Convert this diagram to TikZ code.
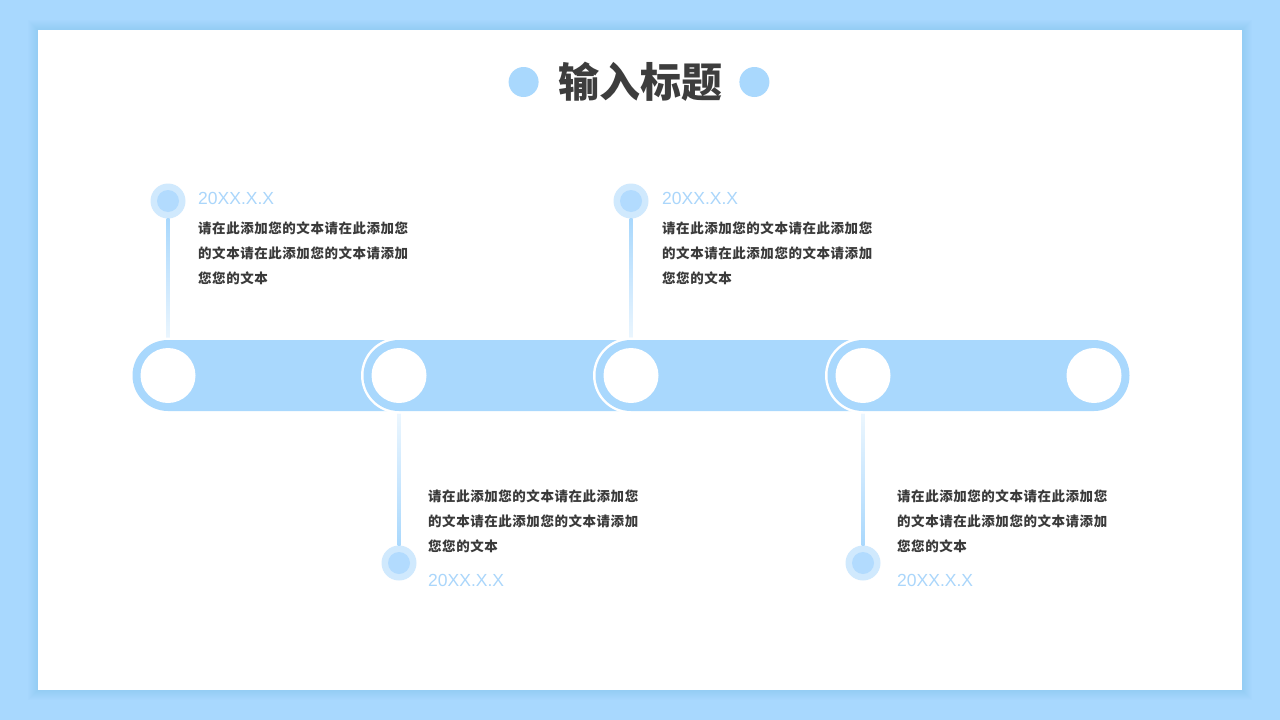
\documentclass[tikz,border=0pt]{standalone}
\usepackage{fontspec}
\newfontfamily\cjk{Noto Sans CJK SC}
\newfontfamily\cjkbody[LetterSpace=4]{Noto Sans CJK SC}
\newfontfamily\datefont{Liberation Sans}
\usetikzlibrary{positioning}

\definecolor{bgblue}{HTML}{A8D8FE}
\definecolor{shadowblue}{HTML}{7FBFF2}
\definecolor{barblue}{HTML}{A9D8FD}
\definecolor{markerlight}{HTML}{D0E9FD}
\definecolor{markerblue}{HTML}{B2DBFE}
\definecolor{datecolor}{HTML}{AAD6FB}
\definecolor{titlegray}{HTML}{3D3D3D}
\definecolor{bodygray}{HTML}{3A3A3A}

\begin{document}
\begin{tikzpicture}[x=1pt, y=-1pt]
	\tikzstyle{hole} = [
		circle, fill=white, minimum size=55pt, inner sep=0pt
	]
	\tikzstyle{marker} = [
		circle, fill=markerlight, minimum size=35pt, inner sep=0pt
	]
	\tikzstyle{marker_in} = [
		circle, fill=markerblue, minimum size=22pt, inner sep=0pt
	]
	\tikzstyle{dot} = [
		circle, fill=barblue, minimum size=30pt, inner sep=0pt
	]
	\tikzstyle{date} = [
		text=datecolor, font={\datefont\fontsize{17.5}{17.5}\selectfont}, inner sep=0pt, anchor=base west
	]
	\tikzstyle{body} = [
		text=bodygray, font={\cjkbody\bfseries\fontsize{13.5}{25}\selectfont}, align=left, inner sep=0pt, anchor=north west
	]
	\tikzstyle{stem_down} = [
		top color=barblue, bottom color=white
	]
	\tikzstyle{stem_up} = [
		top color=white, bottom color=barblue
	]

	% Background and panel
	\useasboundingbox (0,0) rectangle (1280,720);
	\fill[bgblue] (0,0) rectangle (1280,720);
	\foreach \i in {1,...,10}
		\fill[shadowblue, opacity=0.045] (38-\i, 30-\i) rectangle (1242+\i, 690+\i);
	\fill[white] (38,30) rectangle (1242,690);

	% Title
	\node (title) at (640,82) [inner sep=0pt, text=titlegray, font={\cjk\bfseries\fontsize{41}{41}\selectfont}] {输入标题};
	\node (dotL) [dot, left=19pt of title] {};
	\node (dotR) [dot, right=17pt of title] {};

	% Timeline stops
	\coordinate (p1) at (168,375.5);
	\coordinate (p2) at (399,375.5);
	\coordinate (p3) at (631,375.5);
	\coordinate (p4) at (863,375.5);
	\coordinate (p5) at (1094,375.5);

	% Markers
	\node (m1) [marker] at (p1 |- 0,201) {};
	\node (m2) [marker] at (p2 |- 0,563) {};
	\node (m3) [marker] at (p3 |- 0,201) {};
	\node (m4) [marker] at (p4 |- 0,563) {};
	\foreach \m in {m1,m2,m3,m4}
		\node [marker_in] at (\m) {};

	% Stems (under the bar)
	\shade[stem_down] ([xshift=-1.5pt]m1.south) rectangle ([xshift=1.5pt]m1.south |- p1);
	\shade[stem_down] ([xshift=-1.5pt]m3.south) rectangle ([xshift=1.5pt]m3.south |- p3);
	\shade[stem_up] ([xshift=-1.5pt]m2.north |- p2) rectangle ([xshift=1.5pt]m2.north);
	\shade[stem_up] ([xshift=-1.5pt]m4.north |- p4) rectangle ([xshift=1.5pt]m4.north);

	% Bar segments
	\foreach \a/\b in {168/399, 399/631, 631/863, 863/1094} {
		\fill[white, rounded corners=38] (\a-38, 337.5) rectangle (\b+38, 413.5);
		\fill[barblue, rounded corners=35.5] (\a-35.5, 340) rectangle (\b+35.5, 411);
	}
	\foreach \p [count=\i] in {p1,p2,p3,p4,p5}
		\node (c\i) [hole] at (\p) {};

	% Texts
	\node (d1) [date] at (198,204) {20XX.X.X};
	\node (t1) [body] at (198,221.5) {请在此添加您的文本请在此添加您\\的文本请在此添加您的文本请添加\\您您的文本};
	\node (d3) [date] at (662,204) {20XX.X.X};
	\node (t3) [body] at (662,221.5) {请在此添加您的文本请在此添加您\\的文本请在此添加您的文本请添加\\您您的文本};
	\node (t2) [body] at (428,489.5) {请在此添加您的文本请在此添加您\\的文本请在此添加您的文本请添加\\您您的文本};
	\node (d2) [date] at (428,586) {20XX.X.X};
	\node (t4) [body] at (897,489.5) {请在此添加您的文本请在此添加您\\的文本请在此添加您的文本请添加\\您您的文本};
	\node (d4) [date] at (897,586) {20XX.X.X};

\end{tikzpicture}
\end{document}
